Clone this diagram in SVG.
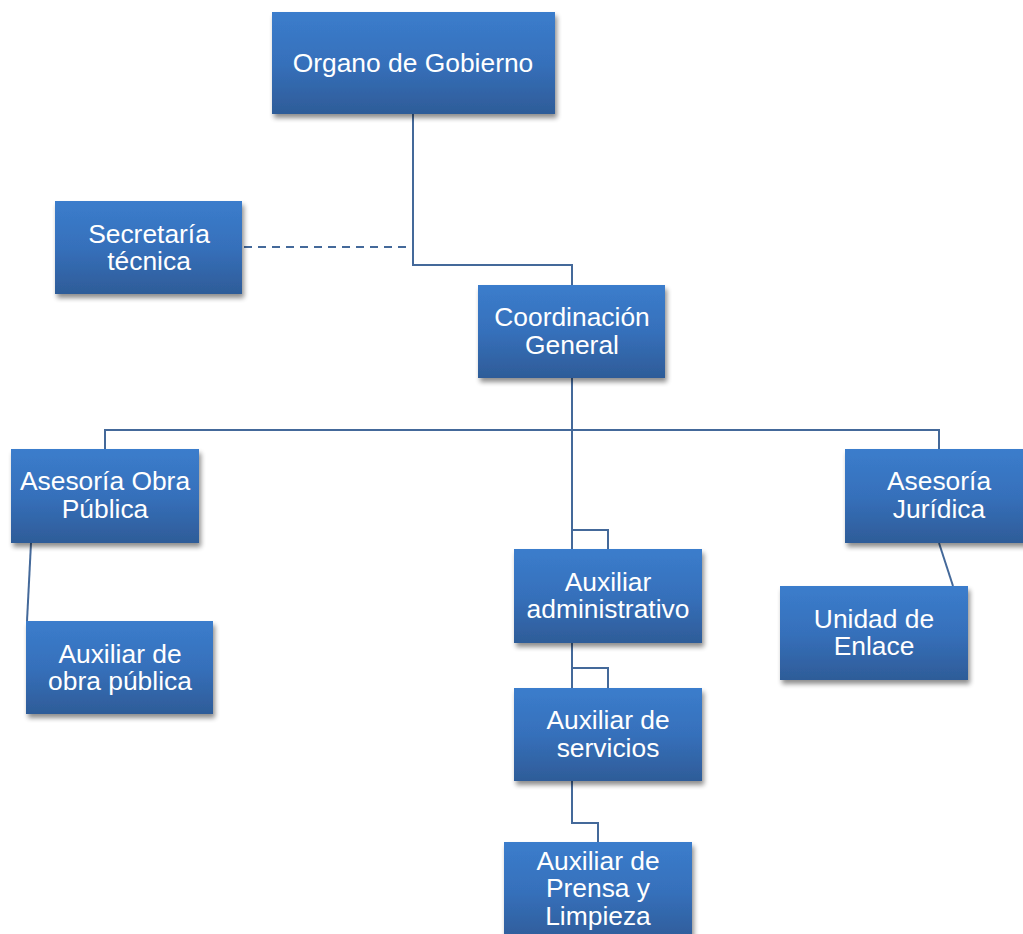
<svg xmlns="http://www.w3.org/2000/svg" width="1023" height="934" viewBox="0 0 1023 934">
<defs>
<linearGradient id="g" x1="0" y1="0" x2="0" y2="1">
<stop offset="0" stop-color="#3b7dcc"/>
<stop offset="0.5" stop-color="#3670bb"/>
<stop offset="1" stop-color="#2e5c98"/>
</linearGradient>
<filter id="sh" x="-10%" y="-10%" width="125%" height="130%">
<feGaussianBlur in="SourceAlpha" stdDeviation="2.5"/>
<feOffset dx="2" dy="4" result="b"/>
<feComponentTransfer><feFuncA type="linear" slope="0.45"/></feComponentTransfer>
<feMerge><feMergeNode/><feMergeNode in="SourceGraphic"/></feMerge>
</filter>
</defs>
<style>
.box{fill:url(#g);filter:url(#sh)}
.t{font-family:"Liberation Sans",Arial,sans-serif;font-size:26.4px;fill:#fff;text-anchor:middle}
.c{fill:none;stroke:#44699a;stroke-width:2}
.d{stroke-dasharray:8 6}
</style>
<rect width="1023" height="934" fill="#fff"/>
<g id="connectors">
<polyline class="c" points="413,114 413,265 572,265 572,285"/>
<line class="c d" x1="244" y1="247" x2="408" y2="247"/>
<polyline class="c" points="572,378 572,430"/>
<polyline class="c" points="105,449 105,430 939,430 939,449"/>
<polyline class="c" points="572,430 572,549"/>
<polyline class="c" points="572,530 608,530 608,549"/>
<polyline class="c" points="572,643 572,688"/>
<polyline class="c" points="572,668 608,668 608,688"/>
<polyline class="c" points="572,781 572,823 598,823 598,842"/>
<line class="c" x1="31" y1="543" x2="27" y2="621"/>
<line class="c" x1="939" y1="543" x2="953" y2="586"/>
</g>
<g id="organo"><rect class="box" x="272" y="12" width="283" height="102"/><text class="t" x="413" y="72">Organo de Gobierno</text></g>
<g id="secretaria"><rect class="box" x="55" y="201" width="187" height="93"/><text class="t" x="149" y="243">Secretaría</text><text class="t" x="149" y="270">técnica</text></g>
<g id="coordinacion"><rect class="box" x="478" y="285" width="187" height="93"/><text class="t" x="572" y="326">Coordinación</text><text class="t" x="572" y="354">General</text></g>
<g id="asesoria-obra"><rect class="box" x="11" y="449" width="188" height="94"/><text class="t" x="105" y="490">Asesoría Obra</text><text class="t" x="105" y="518">Pública</text></g>
<g id="asesoria-juridica"><rect class="box" x="845" y="449" width="188" height="94"/><text class="t" x="939" y="490">Asesoría</text><text class="t" x="939" y="518">Jurídica</text></g>
<g id="aux-admin"><rect class="box" x="514" y="549" width="188" height="94"/><text class="t" x="608" y="591">Auxiliar</text><text class="t" x="608" y="618">administrativo</text></g>
<g id="unidad-enlace"><rect class="box" x="780" y="586" width="188" height="94"/><text class="t" x="874" y="628">Unidad de</text><text class="t" x="874" y="655">Enlace</text></g>
<g id="aux-obra"><rect class="box" x="26" y="621" width="187" height="93"/><text class="t" x="120" y="663">Auxiliar de</text><text class="t" x="120" y="690">obra pública</text></g>
<g id="aux-servicios"><rect class="box" x="514" y="688" width="188" height="93"/><text class="t" x="608" y="729">Auxiliar de</text><text class="t" x="608" y="757">servicios</text></g>
<g id="aux-prensa"><rect class="box" x="504" y="842" width="188" height="100"/><text class="t" x="598" y="870">Auxiliar de</text><text class="t" x="598" y="897">Prensa y</text><text class="t" x="598" y="925">Limpieza</text></g>
</svg>
